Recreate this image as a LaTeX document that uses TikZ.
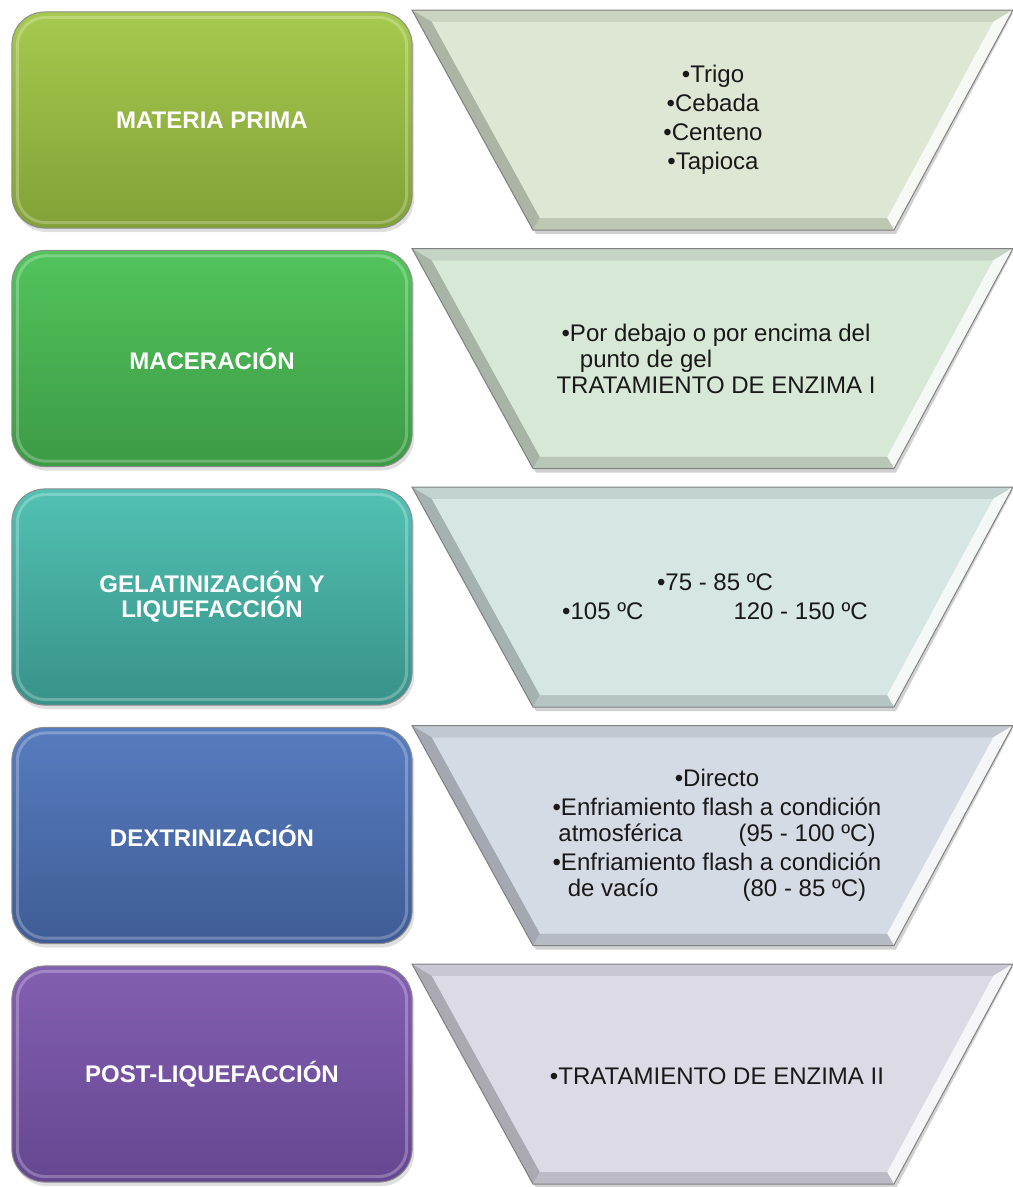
\documentclass[tikz,border=0pt]{standalone}
\usepackage{fontspec}
\setmainfont{Liberation Sans}
\usetikzlibrary{shadows}

\definecolor{primaTop}{HTML}{A6C94E}
\definecolor{primaBot}{HTML}{82A137}
\definecolor{macerTop}{HTML}{52C45C}
\definecolor{macerBot}{HTML}{3C9A45}
\definecolor{gelatTop}{HTML}{52C1B3}
\definecolor{gelatBot}{HTML}{389289}
\definecolor{dextrTop}{HTML}{577CBE}
\definecolor{dextrBot}{HTML}{3F5C96}
\definecolor{postlTop}{HTML}{835FB2}
\definecolor{postlBot}{HTML}{654791}
\definecolor{primaPale}{HTML}{DDE6D1}
\definecolor{macerPale}{HTML}{D6E7D5}
\definecolor{gelatPale}{HTML}{D3E5E3}
\definecolor{dextrPale}{HTML}{D3D9E3}
\definecolor{postlPale}{HTML}{DBD8E4}

\tikzset{
  stagebox/.style={rounded corners=0.33cm, minimum width=4cm, minimum height=2.16cm,
    inner sep=0pt, draw=black!45, line width=0.01cm,
    drop shadow={opacity=.25, shadow xshift=0.02cm, shadow yshift=-0.04cm},
    font=\bfseries\fontsize{6.83pt}{7.1pt}\selectfont, text=white, align=center},
  funnelnote/.style={inner sep=0pt, align=center, text=black!90,
    font=\fontsize{6.83pt}{7.4pt}\selectfont},
  gloss/.style={white, opacity=.25, line width=0.03cm, rounded corners=0.28cm}
}

\begin{document}
\begin{tikzpicture}[x=0.01cm, y=-0.01cm]
  \useasboundingbox (0,0) rectangle (1013,1187);
  % funnels on the right
  \foreach \t/\c in {10/primaPale, 248.5/macerPale, 487/gelatPale, 725.5/dextrPale, 964/postlPale} {
    \fill[black, opacity=.18] (415,\t+3) -- (1013,\t+3) -- (896,\t+224) -- (536,\t+224) -- cycle;
    \fill[\c] (412,\t) -- (1013,\t) -- (894,\t+220) -- (533,\t+220) -- cycle;
    \fill[\c!92!black] (412,\t) -- (1013,\t) -- (993,\t+12) -- (432,\t+12) -- cycle;
    \fill[\c!78!black] (412,\t) -- (432,\t+12) -- (540,\t+208) -- (533,\t+220) -- cycle;
    \fill[white!75!\c] (1013,\t) -- (993,\t+12) -- (887,\t+208) -- (894,\t+220) -- cycle;
    \fill[\c!86!black] (533,\t+220) -- (540,\t+208) -- (887,\t+208) -- (894,\t+220) -- cycle;
    \fill[\c!96!white] (432,\t+12) -- (993,\t+12) -- (887,\t+208) -- (540,\t+208) -- cycle;
    \draw[black!50, line width=0.01cm] (412,\t) -- (1013,\t) -- (894,\t+220) -- (533,\t+220) -- cycle;
  }

  % stages on the left
  \node[stagebox, top color=primaTop, bottom color=primaBot] (prima) at (212,120) {MATERIA PRIMA};
  \node[stagebox, top color=macerTop, bottom color=macerBot] (macer) at (212,358.5) {MACERACIÓN};
  \node[stagebox, top color=gelatTop, bottom color=gelatBot] (gelat) at (212,597) {GELATINIZACIÓN Y\\LIQUEFACCIÓN};
  \node[stagebox, top color=dextrTop, bottom color=dextrBot] (dextr) at (212,835.5) {DEXTRINIZACIÓN};
  \node[stagebox, top color=postlTop, bottom color=postlBot] (postl) at (212,1074) {POST-LIQUEFACCIÓN};
  \foreach \s in {prima, macer, gelat, dextr, postl}
    \draw[gloss] ([shift={(0.06cm,-0.06cm)}]\s.north west) rectangle ([shift={(-0.06cm,0.06cm)}]\s.south east);

  % notes in the funnels
  \node[funnelnote] (primanote) at (713,120) {•Trigo\\[0.03cm]•Cebada\\[0.03cm]•Centeno\\[0.03cm]•Tapioca};
  \node[funnelnote] (macernote) at (716,358.5) {•Por debajo o por encima del\\\makebox[2.72cm][l]{punto de gel}\\TRATAMIENTO DE ENZIMA I};
  \node[funnelnote] (gelatnote) at (715,597) {•75 - 85 ºC\\[0.03cm]•105 ºC\hspace{0.9cm}120 - 150 ºC};
  \node[funnelnote] (dextrnote) at (717,835.5) {•Directo\\[0.03cm]•Enfriamiento flash a condición\\atmosférica\hspace{0.56cm}(95 - 100 ºC)\\[0.03cm]•Enfriamiento flash a condición\\de vacío\hspace{0.84cm}(80 - 85 ºC)};
  \node[funnelnote] (postlnote) at (717,1076) {•TRATAMIENTO DE ENZIMA II};
\end{tikzpicture}
\end{document}
